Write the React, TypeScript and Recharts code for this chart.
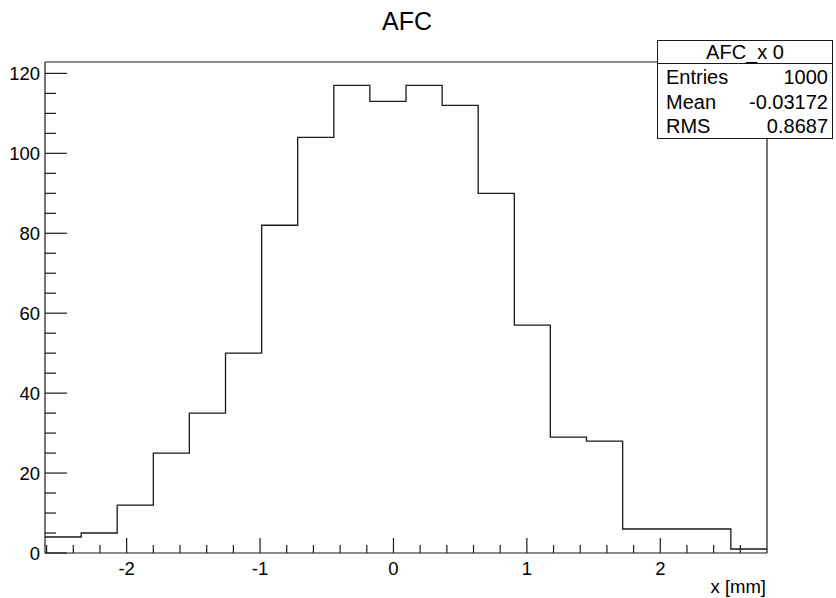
import { LineChart, Line, XAxis, YAxis, ReferenceLine } from 'recharts';

const binEdges = [
  -2.612, -2.341, -2.071, -1.8, -1.53, -1.259, -0.988, -0.718, -0.447, -0.177,
  0.094, 0.365, 0.635, 0.906, 1.176, 1.447, 1.718, 1.988, 2.259, 2.529, 2.8,
];
const binCounts = [4, 5, 12, 25, 35, 50, 82, 104, 117, 113, 117, 112, 90, 57, 29, 28, 6, 6, 6, 1];

const xTicks = [
  -2.6, -2.4, -2.2, -2, -1.8, -1.6, -1.4, -1.2, -1, -0.8, -0.6, -0.4, -0.2, 0,
  0.2, 0.4, 0.6, 0.8, 1, 1.2, 1.4, 1.6, 1.8, 2, 2.2, 2.4, 2.6,
];
const xMajor = [-2, -1, 0, 1, 2];
const yTicks = [
  0, 5, 10, 15, 20, 25, 30, 35, 40, 45, 50, 55, 60, 65, 70, 75, 80, 85, 90, 95,
  100, 105, 110, 115, 120,
];
const yMajor = [0, 20, 40, 60, 80, 100, 120];

const statsTitle = 'AFC_x 0';
const statsRows = [
  ['Entries', '1000'],
  ['Mean', '-0.03172'],
  ['RMS', '0.8687'],
];

const FONT = '"Liberation Sans", Arial, Helvetica, sans-serif';
const INK = '#1a1a1a';
const X_MIN = binEdges[0];
const X_MAX = binEdges[binEdges.length - 1];
const Y_MAX = 122.85;

// step line: one point per left edge, plus the closing right edge
const data = binEdges.map((edge, i) => ({
  edge,
  count: binCounts[Math.min(i, binCounts.length - 1)],
}));

// ROOT-style ticks: drawn inward from the axis, labels only on majors
function XTick({ x, y, payload }: any) {
  const major = xMajor.includes(payload.value);
  return (
    <g>
      <line x1={x} x2={x} y1={y} y2={y - (major ? 15 : 8)} stroke={INK} strokeWidth={1.2} />
      {major && (
        <text x={x} y={y + 22} textAnchor='middle' fontSize={18.5} fontFamily={FONT} fill='#000'>
          {payload.value}
        </text>
      )}
    </g>
  );
}

function YTick({ x, y, payload }: any) {
  const major = yMajor.includes(payload.value);
  return (
    <g>
      <line x1={x} x2={x + (major ? 22 : 11)} y1={y} y2={y} stroke={INK} strokeWidth={1.2} />
      {major && (
        <text x={x - 5} y={y + 6.5} textAnchor='end' fontSize={18.5} fontFamily={FONT} fill='#000'>
          {payload.value}
        </text>
      )}
    </g>
  );
}

export default function App() {
  return (
    <div style={{ position: 'relative', width: 836, height: 598, background: '#fff', fontFamily: FONT }}>
      <style>{'body{margin:0}'}</style>
      <LineChart
        width={836}
        height={598}
        data={data}
        margin={{ top: 62, right: 69, bottom: 15, left: 5 }}
      >
        <ReferenceLine y={Y_MAX} stroke={INK} strokeWidth={1.2} ifOverflow='visible' />
        <ReferenceLine x={X_MAX} stroke={INK} strokeWidth={1.2} ifOverflow='visible' />
        <Line
          type='stepAfter'
          dataKey='count'
          stroke={INK}
          strokeWidth={1.3}
          dot={false}
          activeDot={false}
          isAnimationActive={false}
        />
        <XAxis
          dataKey='edge'
          type='number'
          domain={[X_MIN, X_MAX]}
          ticks={xTicks}
          interval={0}
          tickSize={0}
          tickMargin={0}
          tickLine={false}
          tick={<XTick />}
          height={30}
          axisLine={{ stroke: INK, strokeWidth: 1.2 }}
          allowDataOverflow
        />
        <YAxis
          type='number'
          domain={[0, Y_MAX]}
          ticks={yTicks}
          interval={0}
          tickSize={0}
          tickMargin={0}
          tickLine={false}
          tick={<YTick />}
          width={40}
          axisLine={{ stroke: INK, strokeWidth: 1.2 }}
          allowDataOverflow
        />
      </LineChart>

      <div
        style={{ position: 'absolute', left: 0, width: 814, top: 9, textAlign: 'center', fontSize: 25, lineHeight: '25px', color: '#000' }}
      >
        AFC
      </div>

      <div
        style={{ position: 'absolute', right: 836 - 766, top: 578, fontSize: 18.5, lineHeight: '18.5px', color: '#000' }}
      >
        x [mm]
      </div>

      <div
        style={{
          position: 'absolute',
          left: 657,
          top: 40,
          width: 176,
          height: 99,
          boxSizing: 'border-box',
          border: `1.5px solid ${INK}`,
          background: '#fff',
          fontSize: 20,
          lineHeight: '20px',
          color: '#000',
        }}
      >
        <div style={{ height: 21, borderBottom: `1.5px solid ${INK}`, textAlign: 'center', paddingTop: 1 }}>
          {statsTitle}
        </div>
        {statsRows.map(([k, v]) => (
          <div
            key={k}
            style={{ display: 'flex', justifyContent: 'space-between', padding: '0 4px 0 8px', height: 24.5, paddingTop: 3, boxSizing: 'border-box' }}
          >
            <span>{k}</span>
            <span>{v}</span>
          </div>
        ))}
      </div>
    </div>
  );
}
